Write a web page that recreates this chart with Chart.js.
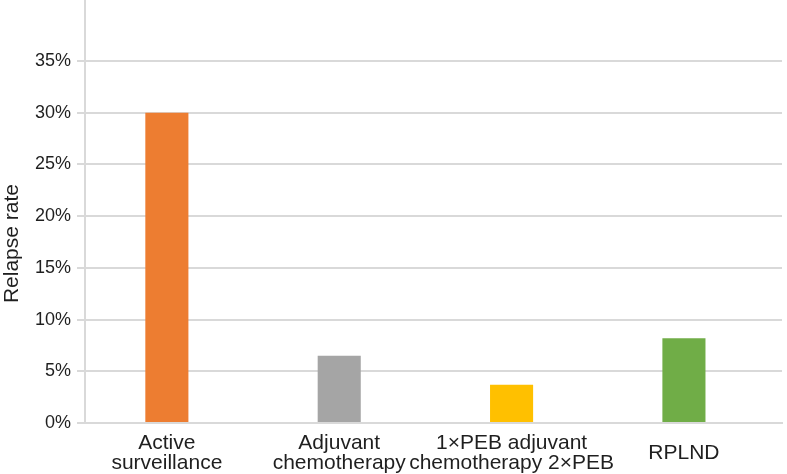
<!DOCTYPE html>
<html>
<head>
<meta charset="utf-8">
<script src="https://cdn.jsdelivr.net/npm/chart.js@4"></script>
<style>
  html, body { margin: 0; padding: 0; background: #fff; }
  #wrap { width: 787px; height: 474px; }
</style>
</head>
<body>
<div id="wrap"><canvas id="bar-chart"></canvas></div>
<script>
const categories = [
    ['Active', 'surveillance'],
    ['Adjuvant', 'chemotherapy'],
    ['1×PEB adjuvant', 'chemotherapy 2×PEB'],
    'RPLND'
]
const relapseRate = [30, 6.5, 3.7, 8.2]
const barColors = ['#ED7D31', '#A5A5A5', '#FFC000', '#70AD47']
const yTicksMax = 35

// bars sit on a numeric x axis (0..3) so the slots can be placed like the original
const points = relapseRate.map((v, i) => ({ x: i, y: v }))

const ctx = document.getElementById('bar-chart')

new Chart(ctx, {
    type: 'bar',
    data: {
        datasets: [{
            label: 'Relapse rate',
            data: points,
            backgroundColor: barColors,
            barPercentage: 0.25,
            categoryPercentage: 1
        }]
    },
    options: {
        responsive: true,
        maintainAspectRatio: false,
        animation: false,
        layout: { padding: { right: 5, bottom: 0 } },
        plugins: {
            legend: { display: false },
            tooltip: { enabled: false }
        },
        scales: {
            x: {
                type: 'linear',
                offset: false,
                bounds: 'data',
                min: -0.475,
                max: 3.569,
                afterBuildTicks: (scale) => {
                    scale.ticks = categories.map((c, i) => ({ value: i }))
                },
                grid: { display: false, drawTicks: false, offset: false },
                border: { color: '#d9d9d9', width: 2 },
                ticks: {
                    color: '#1f1f1f',
                    font: { family: 'Liberation Sans, Arial', size: 21, lineHeight: 0.96 },
                    maxRotation: 0,
                    autoSkip: false,
                    crossAlign: 'center',
                    padding: 20,
                    callback: (v) => categories[v]
                },
                afterFit: (scale) => {
                    scale.height = 51
                    scale.paddingLeft = 0
                    scale.paddingRight = 0
                }
            },
            y: {
                min: 0,
                max: 40.9,
                afterBuildTicks: (scale) => {
                    scale.ticks = scale.ticks.filter(t => t.value <= yTicksMax + 1e-9)
                },
                afterFit: (scale) => {
                    scale.width = 85
                    scale.paddingTop = 0
                    scale.paddingBottom = 0
                },
                grid: { color: '#d9d9d9', lineWidth: 2, tickLength: 8 },
                border: { color: '#d9d9d9', width: 2 },
                ticks: {
                    stepSize: 5,
                    color: '#1f1f1f',
                    padding: 6,
                    font: { family: 'Liberation Sans, Arial', size: 18 },
                    callback: (v) => v + '%'
                },
                title: {
                    display: true,
                    // trailing spaces push the centred title down a bit, like the original
                    text: 'Relapse rate' + '\u00a0'.repeat(11),
                    color: '#1f1f1f',
                    padding: 0,
                    font: { family: 'Liberation Sans, Arial', size: 21 }
                }
            }
        }
    }
})
</script>
</body>
</html>
